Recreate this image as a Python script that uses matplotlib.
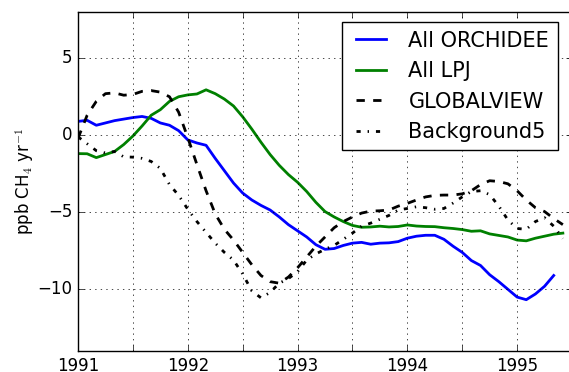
import matplotlib
matplotlib.use("Agg")
import matplotlib.pyplot as plt
import numpy as np

plt.style.use('classic')

# monthly values, Jan 1991 onwards
months = np.arange(54)
years = 1991 + months / 12.0

orchidee = [0.9, 0.97, 0.65, 0.8, 0.95, 1.05, 1.15, 1.22, 1.1, 0.8, 0.65, 0.3,
            -0.3, -0.5, -0.65, -1.5, -2.3, -3.1, -3.75, -4.2, -4.55, -4.85, -5.3, -5.8,
            -6.2, -6.6, -7.1, -7.4, -7.35, -7.15, -7.0, -6.95, -7.07, -7.0, -6.98, -6.9,
            -6.68, -6.55, -6.49, -6.49, -6.75, -7.2, -7.6, -8.13, -8.45, -9.05, -9.5, -10.0,
            -10.5, -10.67, -10.3, -9.8, -9.1]

lpj = [-1.19, -1.2, -1.45, -1.25, -1.05, -0.6, -0.05, 0.6, 1.3, 1.66, 2.2, 2.5,
       2.62, 2.68, 2.95, 2.7, 2.35, 1.9, 1.2, 0.4, -0.45, -1.25, -1.95, -2.55,
       -3.05, -3.65, -4.35, -4.95, -5.3, -5.6, -5.85, -5.97, -5.95, -5.9, -5.95, -5.92,
       -5.82, -5.89, -5.92, -5.93, -6.0, -6.05, -6.12, -6.23, -6.2, -6.4, -6.5, -6.6,
       -6.8, -6.85, -6.68, -6.55, -6.42, -6.35]

globalview = [-0.2, 1.3, 2.2, 2.7, 2.75, 2.6, 2.65, 2.85, 2.9, 2.8, 2.5, 1.5,
              -0.15, -1.9, -3.6, -5.1, -6.1, -6.8, -7.6, -8.4, -9.1, -9.5, -9.6, -9.2,
              -8.6, -7.9, -7.2, -6.6, -6.0, -5.6, -5.3, -5.05, -4.92, -4.9, -4.85, -4.6,
              -4.42, -4.2, -4.0, -3.9, -3.88, -3.88, -3.8, -3.6, -3.2, -2.95, -3.0, -3.15,
              -3.6, -4.2, -4.7, -4.95, -5.4, -5.8]

background5 = [-0.1, -0.55, -1.0, -1.15, -1.05, -1.4, -1.42, -1.5, -1.7, -2.15, -3.2, -3.9,
               -4.8, -5.6, -6.3, -7.0, -7.6, -8.1, -9.0, -10.1, -10.55, -10.2, -9.6, -9.3,
               -8.85, -8.1, -7.7, -7.4, -7.15, -6.75, -6.35, -5.9, -5.7, -5.45, -5.2, -4.85,
               -4.75, -4.64, -4.7, -4.8, -4.75, -4.4, -4.0, -3.65, -3.6, -3.85, -4.6, -5.5,
               -6.05, -6.1, -5.6, -5.35, -5.9, -6.7]

fig = plt.figure(figsize=(5.69, 3.72))
# right edge of the axes sits just past the image edge, as in the original crop
ax = fig.add_axes([78/569., 21/372., 494/569., 339/372.])

ax.plot(years[:len(orchidee)], orchidee, 'b-', lw=2, label='All ORCHIDEE')
ax.plot(years[:len(lpj)], lpj, 'g-', lw=2, label='All LPJ')
ax.plot(years[:len(globalview)], globalview, 'k--', lw=2, label='GLOBALVIEW')
ax.plot(years[:len(background5)], background5, 'k-.', lw=2, label='Background5')

ax.set_xlim(1991, 1991 + 494/111.7)
ax.set_ylim(-14, 8)
xt = np.arange(1991, 1995.51, 0.5)
ax.set_xticks(xt)
ax.set_xticklabels(['%d' % t if t % 1 == 0 else '' for t in xt])
ax.set_yticks([-10, -5, 0, 5])
ax.grid(True)
ax.set_ylabel('ppb CH$_4$ yr$^{-1}$', labelpad=1)
leg = ax.legend(loc='upper right', bbox_to_anchor=(490/494., 1.0), fontsize=15)

fig.savefig('out.png', dpi=100)
